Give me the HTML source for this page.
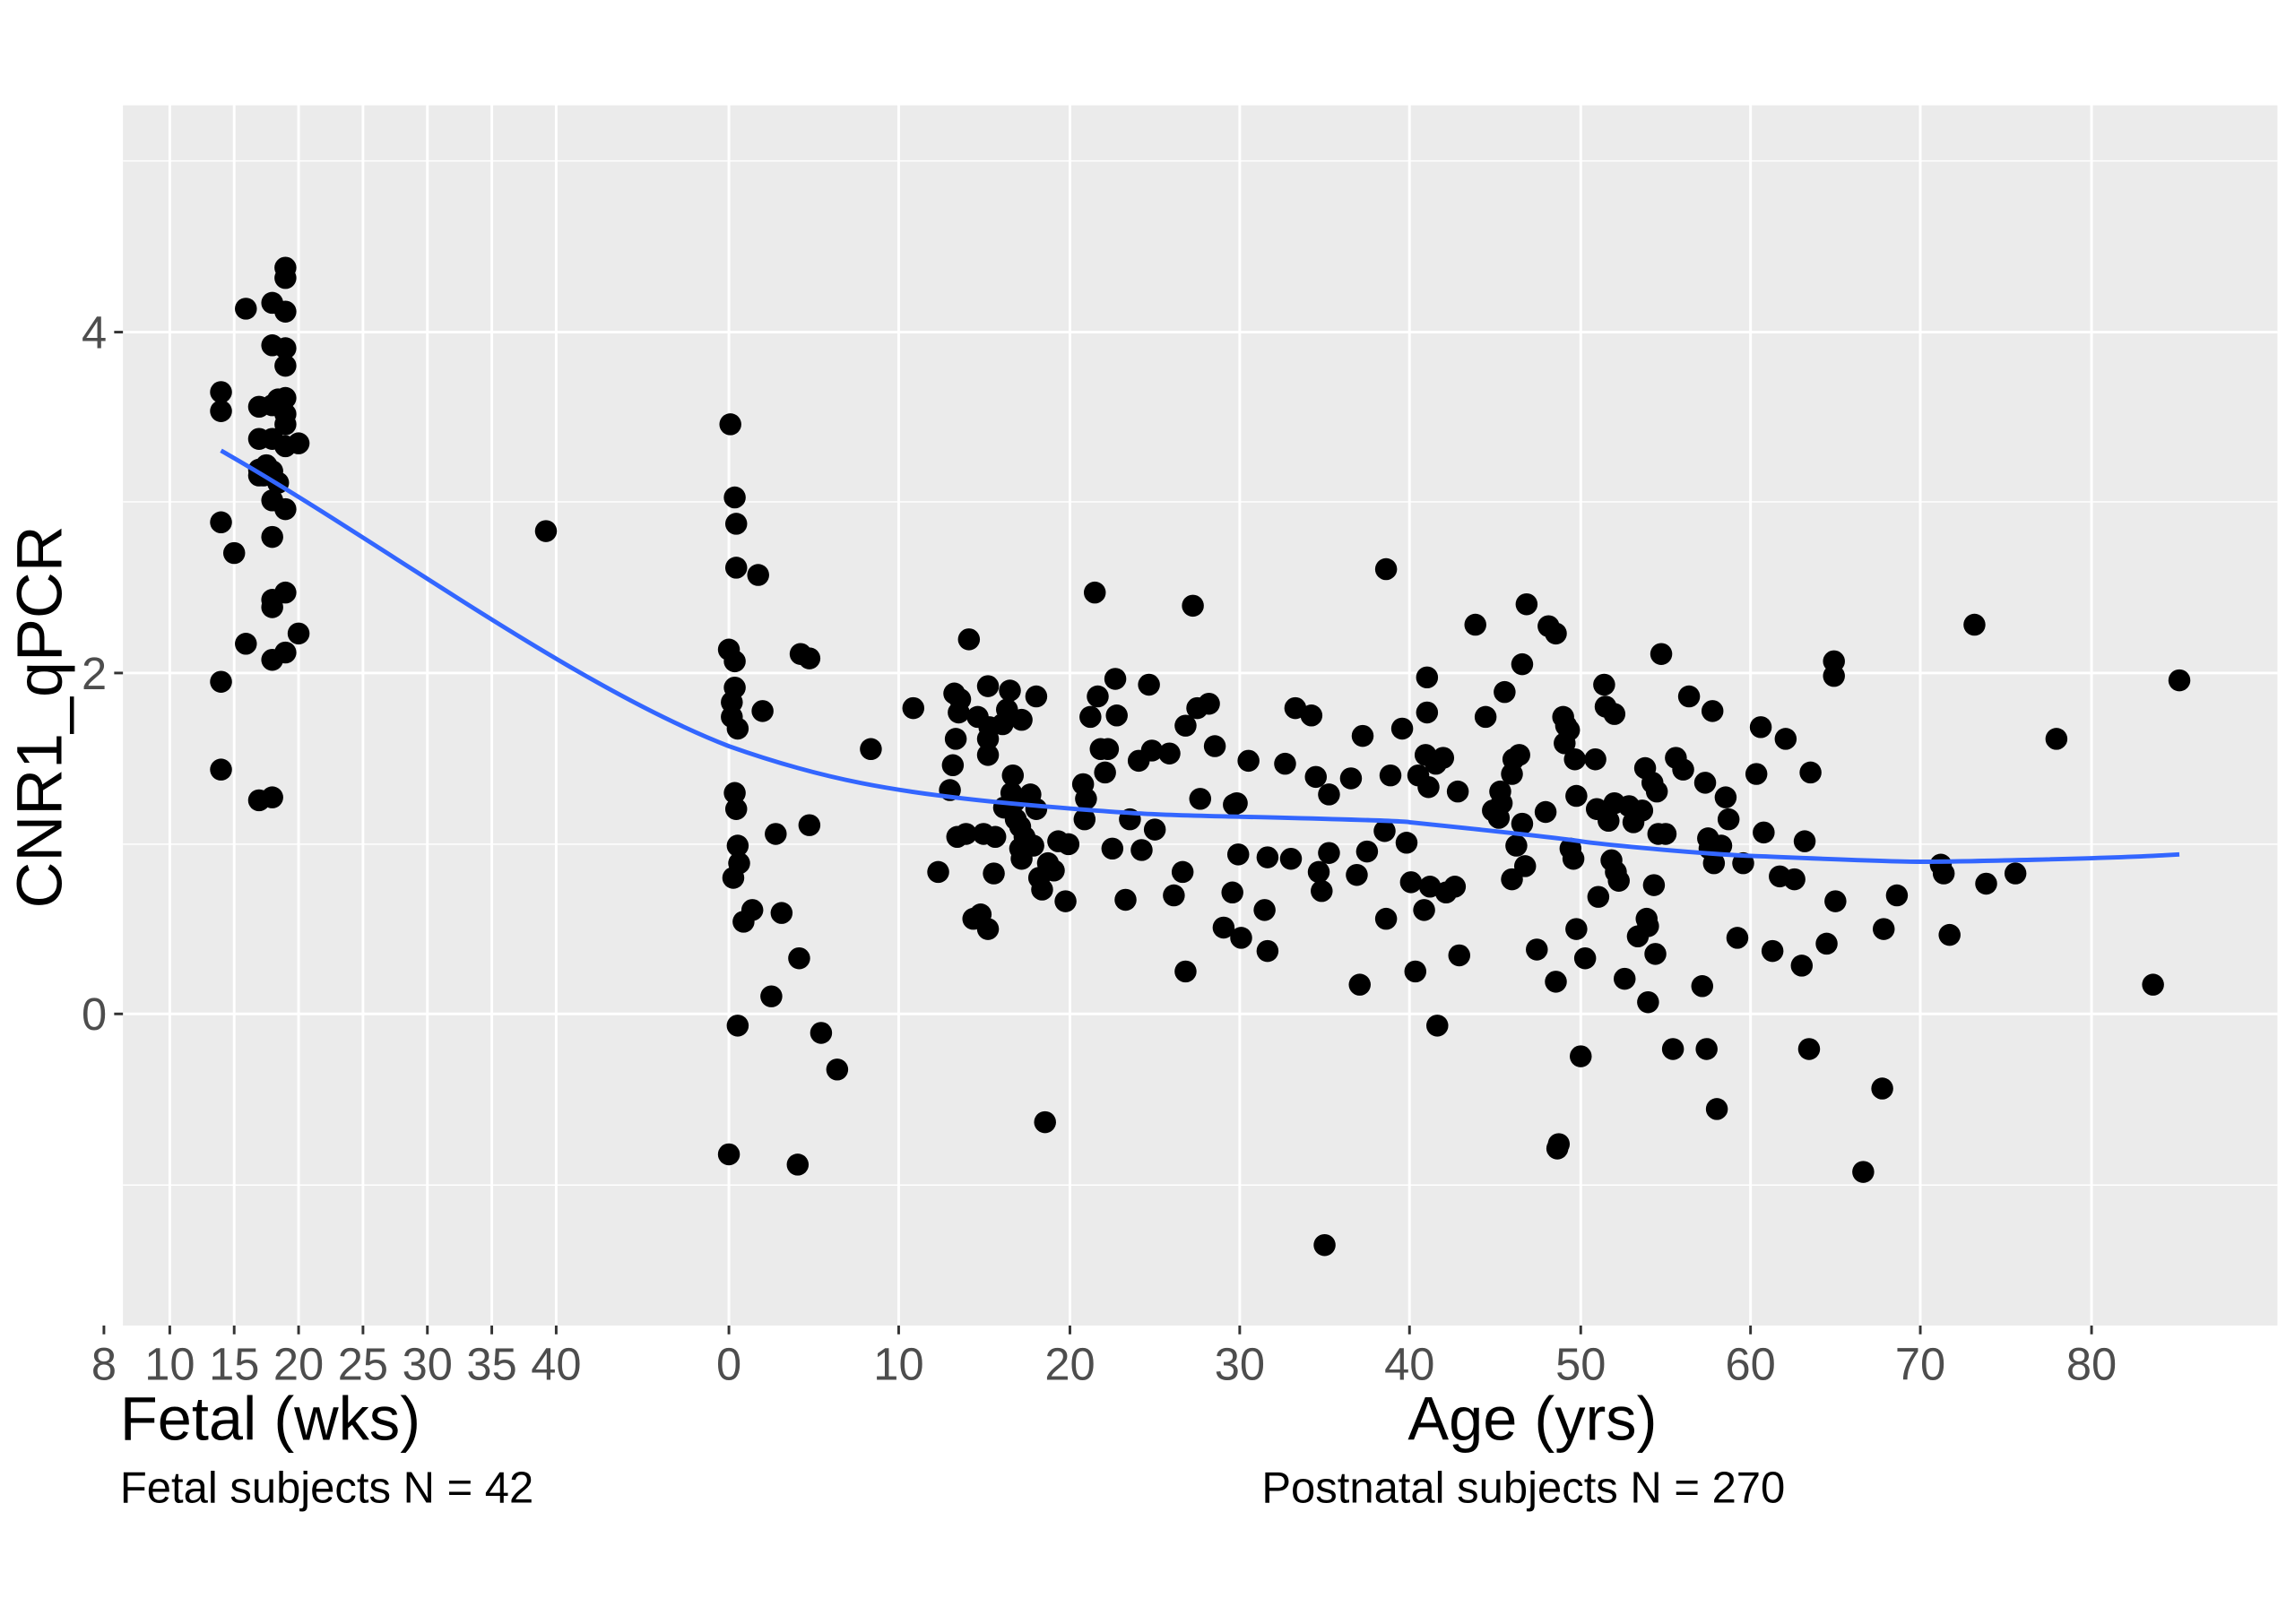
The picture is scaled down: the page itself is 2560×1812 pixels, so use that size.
<!DOCTYPE html>
<html><head><meta charset="utf-8"><style>
html,body{margin:0;padding:0;background:#fff;}
svg{display:block;}
text{font-family:"Liberation Sans",sans-serif;}
</style></head><body>
<svg width="2560" height="1812" viewBox="0 0 1568 1110" preserveAspectRatio="none" xmlns="http://www.w3.org/2000/svg">
<rect x="0" y="0" width="1568" height="1110" fill="#fff"/>
<rect x="84" y="72" width="1472" height="834" fill="#ebebeb"/>
<g stroke="#fff" stroke-width="0.9">
<line x1="84" x2="1556" y1="110" y2="110"/><line x1="84" x2="1556" y1="343" y2="343"/><line x1="84" x2="1556" y1="577" y2="577"/><line x1="84" x2="1556" y1="810" y2="810"/>
</g>
<g stroke="#fff" stroke-width="1.8">
<line x1="84" x2="1556" y1="227" y2="227"/><line x1="84" x2="1556" y1="460" y2="460"/><line x1="84" x2="1556" y1="693" y2="693"/>
<line y1="72" y2="906" x1="116" x2="116"/><line y1="72" y2="906" x1="160" x2="160"/><line y1="72" y2="906" x1="204" x2="204"/><line y1="72" y2="906" x1="248" x2="248"/><line y1="72" y2="906" x1="292" x2="292"/><line y1="72" y2="906" x1="336" x2="336"/><line y1="72" y2="906" x1="380" x2="380"/>
<line y1="72" y2="906" x1="498" x2="498"/><line y1="72" y2="906" x1="614" x2="614"/><line y1="72" y2="906" x1="731" x2="731"/><line y1="72" y2="906" x1="847" x2="847"/><line y1="72" y2="906" x1="963" x2="963"/><line y1="72" y2="906" x1="1080" x2="1080"/><line y1="72" y2="906" x1="1196" x2="1196"/><line y1="72" y2="906" x1="1312" x2="1312"/><line y1="72" y2="906" x1="1429" x2="1429"/>
</g>
<g stroke="#333" stroke-width="1.8">
<line x1="78" x2="84" y1="227" y2="227"/><line x1="78" x2="84" y1="460" y2="460"/><line x1="78" x2="84" y1="693" y2="693"/>
<line y1="906" y2="912" x1="71" x2="71"/><line y1="906" y2="912" x1="116" x2="116"/><line y1="906" y2="912" x1="160" x2="160"/><line y1="906" y2="912" x1="204" x2="204"/><line y1="906" y2="912" x1="248" x2="248"/><line y1="906" y2="912" x1="292" x2="292"/><line y1="906" y2="912" x1="336" x2="336"/><line y1="906" y2="912" x1="380" x2="380"/>
<line y1="906" y2="912" x1="498" x2="498"/><line y1="906" y2="912" x1="614" x2="614"/><line y1="906" y2="912" x1="731" x2="731"/><line y1="906" y2="912" x1="847" x2="847"/><line y1="906" y2="912" x1="963" x2="963"/><line y1="906" y2="912" x1="1080" x2="1080"/><line y1="906" y2="912" x1="1196" x2="1196"/><line y1="906" y2="912" x1="1312" x2="1312"/><line y1="906" y2="912" x1="1429" x2="1429"/>
</g>
<g id="pts" fill="#000"></g>
<path d="M151,308 C260,370 390,468 498,510 C560,532 610,542 700,550 S800,557 880,559 S963,562 963,562 S1060,572 1080,575 S1170,584 1196,585 S1290,589 1312,589 S1440,587 1489,584" fill="none" stroke="#3366ff" stroke-width="3"/>
<g fill="#4d4d4d" font-size="31" text-anchor="end">
<text x="73" y="238">4</text><text x="73" y="471">2</text><text x="73" y="704">0</text>
</g>
<g fill="#4d4d4d" font-size="31" text-anchor="middle">
<text x="71" y="943">8</text><text x="116" y="943">10</text><text x="160" y="943">15</text><text x="204" y="943">20</text><text x="248" y="943">25</text><text x="292" y="943">30</text><text x="336" y="943">35</text><text x="380" y="943">40</text>
<text x="498" y="943">0</text><text x="614" y="943">10</text><text x="731" y="943">20</text><text x="847" y="943">30</text><text x="963" y="943">40</text><text x="1080" y="943">50</text><text x="1196" y="943">60</text><text x="1312" y="943">70</text><text x="1429" y="943">80</text>
</g>
<text x="82" y="984" font-size="42" fill="#000">Fetal (wks)</text>
<text x="1047" y="984" font-size="42" fill="#000" text-anchor="middle">Age (yrs)</text>
<text x="82" y="1027" font-size="30" fill="#000">Fetal subjects N = 42</text>
<text x="862" y="1027" font-size="30" fill="#000">Postnatal subjects N = 270</text>
<text transform="translate(42,490) rotate(-90)" font-size="44" fill="#000" text-anchor="middle">CNR1_qPCR</text>
</svg>
<script>
var P=[151,268,151,281,151,357,151,466,151,526,160,378,168,211,168,440,177,278,177,300,177,321,177,325,177,547,186,207,186,236,186,277,186,300,186,322,186,342,186,367,186,410,186,415,186,451,186,545,195,183,195,190,195,213,195,238,195,250,195,272,195,283,195,290,195,305,195,348,195,405,195,446,204,303,204,433,190,273,182,318,180,325,190,330,373,363,
499,290,502,340,503,358,503,388,498,444,502,452,502,470,500,480,500,490,504,498,502,542,503,553,504,578,505,590,501,600,508,630,504,701,498,789,514,622,518,393,521,486,530,570,527,681,534,624,545,796,546,655,547,447,553,450,553,564,561,706,572,731,595,512,624,484,
641,596,649,540,651,523,652,474,653,505,654,572,655,487,656,478,660,570,662,437,665,628,668,490,670,625,672,570,675,635,675,469,675,516,675,505,676,497,679,597,680,572,685,495,686,552,688,485,690,472,691,542,692,530,693,548,694,560,697,565,697,580,698,587,698,492,700,572,704,543,706,578,708,476,708,553,710,600,712,608,714,767,716,590,720,595,723,575,728,616,730,577,740,536,741,560,742,546,745,490,748,405,750,476,752,512,755,528,757,512,760,580,762,464,763,489,769,615,772,560,778,520,780,581,785,468,787,513,789,567,799,515,802,612,808,596,810,664,810,496,815,414,818,484,820,546,826,481,830,510,836,634,842,610,843,550,845,549,846,584,848,641,853,520,864,622,866,650,866,586,878,522,882,587,885,484,896,489,899,531,901,596,903,609,905,851,908,543,908,583,923,532,927,598,929,673,931,503,934,582,946,568,947,628,947,389,950,530,958,498,961,576,964,603,967,664,969,530,974,516,975,463,975,487,976,538,973,622,977,606,981,522,982,701,986,518,988,610,994,606,996,541,997,653,
1008,427,1015,490,1020,554,1024,559,1025,541,1026,549,1028,473,1033,529,1033,601,1034,519,1036,578,1038,516,1040,454,1040,563,1042,592,1043,413,1050,649,1056,555,1058,428,1063,433,1063,671,1064,785,1065,782,1068,490,1069,508,1070,496,1072,499,1073,580,1075,587,1076,519,1077,635,1077,544,1080,722,1083,655,1090,519,1091,553,1092,613,1096,468,1097,483,1099,561,1101,588,1103,488,1103,549,1104,596,1106,602,1110,669,1113,551,1116,562,1119,640,1122,554,1124,525,1125,628,1126,633,1126,685,1129,535,1130,605,1131,652,1132,541,1133,570,1135,447,1138,570,1143,717,1145,518,1150,526,1154,476,1163,674,1165,535,1166,717,1167,573,1168,580,1170,486,1171,590,1173,758,1176,578,1179,545,1181,560,1187,641,1191,590,1200,529,1203,497,1205,569,1211,650,1216,599,1220,505,1226,601,1231,660,1233,575,1236,717,1237,528,1248,645,1253,462,1253,452,1254,616,1273,801,1286,744,1287,635,1296,612,1326,591,1328,597,1332,639,1349,427,1357,604,1377,597,1405,505,1471,673,1489,465];
var g=document.getElementById('pts'),s='';
for(var i=0;i<P.length;i+=2)s+='<circle cx="'+P[i]+'" cy="'+P[i+1]+'" r="7.5"/>';
g.innerHTML=s;
</script>
</body></html>
